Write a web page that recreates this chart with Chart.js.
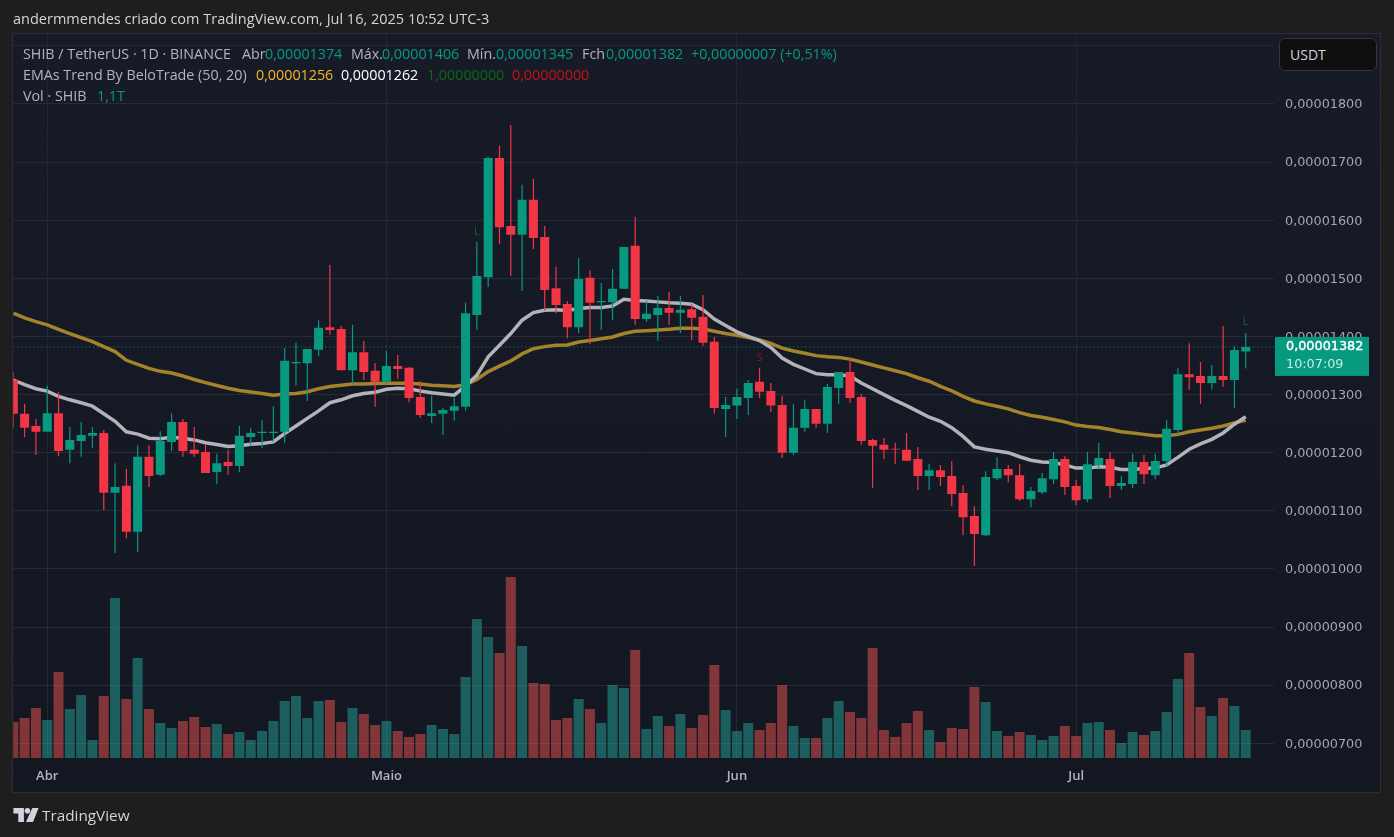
<!DOCTYPE html>
<html>
<head>
<meta charset="utf-8">
<title>SHIB / TetherUS</title>
<script src="https://cdn.jsdelivr.net/npm/chart.js@4"></script>
<style>
html, body { margin: 0; padding: 0; background: #1e1e1e; }
#page { position: relative; width: 1394px; height: 837px; overflow: hidden; background-color: #1e1e1e;
    background-image: radial-gradient(#2a2a2a 0.6px, transparent 0.7px); background-size: 4px 4px; }
#panel { position: absolute; left: 12px; top: 33px; width: 1369px; height: 760px; box-sizing: border-box;
    border: 1.5px solid #2b2d30; background: linear-gradient(#171b27, #121722); }
canvas { position: absolute; left: 0; top: 0; }
.t { position: absolute; white-space: pre; font-family: "Open Sans", sans-serif; font-size: 14.3px; line-height: 18px; color: #b2b5be; }
.g { color: #089981; }
#usdt { position: absolute; left: 1279px; top: 38px; width: 98px; height: 33px; box-sizing: border-box; background: #0f0f10;
    border: 1px solid #34363a; border-radius: 6px; color: #d1d4dc; font: 14px/31px "Open Sans", sans-serif; padding-left: 10px; }
#logo { position: absolute; left: 13px; top: 808px; }
</style>
</head>
<body>
<div id="page">
    <div id="panel"></div>
    <canvas id="myChart" width="1394" height="837"></canvas>
    <div class="t" style="left:13px;top:10px;font-size:14.5px;color:#d1d4dc">andermmendes criado com TradingView.com, Jul 16, 2025 10:52 UTC-3</div>

    <div class="t" style="left:23px;top:45px">SHIB / TetherUS · 1D · BINANCE</div>
    <div class="t" style="left:242px;top:45px">Abr</div><div class="t g" style="left:265px;top:45px">0,00001374</div>
    <div class="t" style="left:351px;top:45px">Máx.</div><div class="t g" style="left:382px;top:45px">0,00001406</div>
    <div class="t" style="left:467px;top:45px">Mín.</div><div class="t g" style="left:496px;top:45px">0,00001345</div>
    <div class="t" style="left:582px;top:45px">Fch</div><div class="t g" style="left:606px;top:45px">0,00001382</div>
    <div class="t g" style="left:691px;top:45px">+0,00000007 (+0,51%)</div>

    <div class="t" style="left:23px;top:66px">EMAs Trend By BeloTrade (50, 20)</div>
    <div class="t" style="left:256px;top:66px;color:#f9b52b">0,00001256</div>
    <div class="t" style="left:341px;top:66px;color:#ffffff">0,00001262</div>
    <div class="t" style="left:427px;top:66px;color:#0b6a12">1,00000000</div>
    <div class="t" style="left:512px;top:66px;color:#c81414">0,00000000</div>

    <div class="t" style="left:23px;top:87px">Vol · SHIB</div>
    <div class="t g" style="left:97px;top:87px">1,1T</div>

    <div id="usdt">USDT</div>

    <svg id="logo" width="26" height="14" viewBox="0 0 36 20">
        <path fill="#d1d4dc" d="M0 0h15v20H7V8H0z"/>
        <circle fill="#d1d4dc" cx="20" cy="4" r="4"/>
        <path fill="#d1d4dc" d="M27 0h9l-8 20h-10z"/>
    </svg>
    <div class="t" style="left:42px;top:806px;font-size:15.3px;color:#d1d4dc">TradingView</div>
</div>

<script>
// prices are in units of 0,00000001, volumes in T
var opens = [1325,1267,1246,1236,1268,1205,1220,1229,1234,1131,
    1143,1064,1193,1162,1218.5,1253,1205,1201,1167,1184,
    1177,1227,1234,1234,1236,1354,1354,1377,1416,1413,
    1342,1373,1341,1322,1349,1346,1296,1263,1267,1272,
    1279,1437,1502,1707,1590,1575,1635,1571,1483,1456,
    1416,1501,1459,1459,1482,1556,1430,1437,1449,1441,
    1447,1434,1391,1275,1281,1294,1322,1306,1282,1200,
    1243,1275,1250,1311.5,1339,1296,1222,1213.5,1207,1205,
    1189,1160,1170,1160,1130.5,1091,1058,1156,1172,1161,
    1120,1132,1154.5,1189,1142.5,1120,1179,1189,1142.5,1146,
    1184,1161,1185.5,1239,1335,1332,1320,1332,1325,1374];
var closes = [1267,1243,1236,1268,1203,1222,1230.5,1234,1131,1141,
    1064,1193,1160,1220,1253,1203,1198,1165,1182,1177,
    1229,1234,1236,1236,1358,1356,1378.5,1415,1411,1342,
    1373,1339,1322,1349,1344,1294,1265,1268,1273.5,1280,
    1440,1504,1707,1588,1575,1635,1569.5,1480,1454,1416,
    1499,1458,1461,1482,1554,1430,1439,1449,1441,1446,
    1432,1389,1277,1282,1296,1320,1305,1281,1200,1243,
    1275,1250,1313,1339,1294,1220,1212,1205,1205.5,1186,
    1160,1170,1158,1129,1089,1060,1158,1172,1161,1120,
    1134,1156,1189,1141,1118,1180,1191,1142.5,1148,1184,
    1163,1185.5,1241,1335,1330,1320,1332,1325,1376.5,1382];
var highs = [1339,1284,1258,1315,1304.5,1244,1253,1244,1239,1182,
    1172,1213,1213,1237,1268,1258,1244,1215,1198,1205,
    1246,1243,1256,1280,1380,1389,1378.5,1428,1523,1418,
    1420,1392,1354,1375,1368,1347.5,1323,1298,1277,1294,
    1458,1563,1709,1728,1764,1661,1671,1590,1520,1461,
    1535,1514,1492,1516,1554,1606,1462,1470,1477,1470,
    1456,1471.5,1399,1296,1310,1325,1346,1320,1298,1284,
    1291,1275,1318,1339,1363,1301,1224,1225.5,1217,1234,
    1210,1181,1179,1185.5,1144,1108,1168,1192,1179,1180,
    1141,1165,1201,1194,1153,1201,1216.5,1201,1160,1198,
    1196,1198,1256,1345.5,1388.5,1356,1351,1418,1383,1406];
var lows = [1243,1227,1196,1236,1194,1182,1193,1208,1101.5,1027.5,
    1053,1029,1141,1160,1203,1193,1193,1165,1146,1162,
    1167,1212,1208,1218.5,1217,1315,1289,1366,1403,1342,
    1316.5,1325,1279,1318,1327,1287,1260,1251,1230.5,1255,
    1272,1411,1485,1559,1504,1478,1550.5,1444,1440,1397,
    1406,1387,1411,1428,1482,1420,1425,1392,1420,1406,
    1394,1384,1267,1227,1258,1265,1294,1270,1191,1196,
    1236,1243,1234,1284,1286,1213.5,1139.5,1189,1181,1186,
    1136,1136,1142.5,1108,1058,1005,1056.5,1153,1149,1117,
    1106,1129,1146,1127,1110,1115,1173.5,1122,1136,1139,
    1146,1154.5,1177,1230,1308,1284,1309,1313,1277,1345];
var emaSlow = [1440,1432,1425.5,1420,1412,1405,1398,1391,1382.5,1374,
    1359,1352,1345,1340,1337,1332,1326,1320.5,1315.5,1311,
    1307,1304.5,1302,1299,1301,1302,1305,1310,1314,1316,
    1318,1318,1319,1319.5,1319.5,1319.5,1318,1316,1315,1314,
    1317,1326,1339.5,1349,1358,1370,1379,1382.5,1385,1385.5,
    1390.5,1393,1396,1399,1405,1409,1410,1411,1412.5,1414,
    1414,1413,1409,1405,1402,1398,1394,1388,1380,1375,
    1371,1367,1365,1364,1361,1356,1351,1346,1341,1336,
    1329,1323,1314,1306.5,1297,1289,1284,1280,1275.5,1269,
    1264,1261,1257,1253,1247.5,1245,1243.5,1240,1236,1234,
    1231.5,1229,1229,1231.5,1236,1239,1242,1246,1251,1256];
var emaFast = [1325,1317,1310,1306,1297,1291,1286,1280,1267,1254,
    1236,1232,1225,1224,1226.5,1225,1222,1217,1214,1210.5,
    1212,1214.5,1216,1218.5,1233,1246,1259,1272,1286,1291,
    1298,1302,1304,1309,1311,1310,1306,1303,1301,1299,
    1315,1333,1365,1385,1405,1428,1441,1445,1446,1444.5,
    1448,1450,1450,1452.5,1464,1462,1461,1459.5,1458,1457,
    1455.5,1446,1430,1419,1408,1400,1393,1381,1363,1352,
    1344,1336,1334,1334,1332,1320,1310,1300,1290,1281,
    1271,1261,1254,1243,1228,1210,1206,1203,1200,1193,
    1187,1184,1183,1179,1173.5,1173.5,1176,1175,1171,1171,
    1173,1173.5,1179,1192,1206,1215,1223,1234,1249,1262];
var volumes = [1.41,1.57,1.96,1.49,3.38,1.93,2.48,0.71,2.44,6.29,
    2.32,3.93,1.93,1.38,1.18,1.45,1.61,1.22,1.34,0.94,
    1.02,0.71,1.06,1.45,2.24,2.44,1.57,2.24,2.28,1.41,
    1.96,1.73,1.30,1.45,1.06,0.83,0.94,1.30,1.14,0.94,
    3.18,5.46,4.75,4.13,7.11,4.40,2.95,2.91,1.49,1.57,
    2.32,1.93,1.38,2.87,2.75,4.24,1.14,1.65,1.26,1.73,
    1.18,1.69,3.65,1.89,1.06,1.38,1.10,1.38,2.87,1.26,
    0.79,0.79,1.57,2.24,1.81,1.57,4.32,1.10,0.83,1.38,
    1.85,1.10,0.63,1.18,1.14,2.79,2.20,1.06,0.86,1.02,
    0.90,0.71,0.86,1.26,0.86,1.38,1.41,1.10,0.59,1.02,
    0.90,1.06,1.81,3.10,4.13,2.00,1.65,2.36,2.04,1.10];
var priceTicks = [700,800,900,1000,1100,1200,1300,1400,1500,1600,1700,1800,1900];
var monthTicks = [3,33,64,94];
var monthLabels = ["Abr","Maio","Jun","Jul"];
var signals = [{i:41, price:1580, text:"L"}, {i:66, price:1363, text:"S"}, {i:109, price:1425, text:"L"}];
var countdown = "10:07:09";

var UP = "#089981";
var DOWN = "#f23645";
var lastIndex = 111.5;

function priceText(v) {
    return (v / 1e8).toFixed(8).replace(".", ",");
}
function candleColor(i) {
    return closes[i] >= opens[i] ? UP : DOWN;
}
function points(values) {
    return values.map((v, i) => ({x: i, y: v}));
}

var bodies = opens.map((o, i) => ({x: i, y: [o, closes[i]]}));
var wicks = lows.map((l, i) => ({x: i, y: [l, highs[i]]}));
var candleColors = opens.map((o, i) => candleColor(i));
var volumeColors = opens.map((o, i) => closes[i] >= o ? "rgba(38,166,154,0.5)" : "rgba(239,83,80,0.5)");
var lastPrice = closes[closes.length - 1];

var overlays = {
    id: "overlays",
    afterDraw: function(chart) {
        var ctx = chart.ctx;
        var xs = chart.scales.x;
        var ys = chart.scales.y;
        ctx.save();
        ctx.textBaseline = "middle";

        signals.forEach(function(s) {
            ctx.font = '11px "Open Sans", sans-serif';
            ctx.textAlign = "center";
            ctx.fillStyle = s.text == "L" ? "#0f6a17" : "#8a1a20";
            ctx.fillText(s.text, xs.getPixelForValue(s.i), ys.getPixelForValue(s.price));
        });

        // last price tag on the axis
        var y = ys.getPixelForValue(lastPrice);
        var textX = chart.chartArea.right + 12;
        ctx.fillStyle = UP;
        ctx.fillRect(chart.chartArea.right + 1, y - 10, 94, 39);
        ctx.textAlign = "left";
        ctx.font = '12.8px "DejaVu Sans", sans-serif';
        ctx.fillStyle = "#ffffff";
        ctx.strokeStyle = "#ffffff";
        ctx.lineWidth = 0.4;
        ctx.fillText(priceText(lastPrice), textX, y);
        ctx.strokeText(priceText(lastPrice), textX, y);
        ctx.fillStyle = "#c8efe6";
        ctx.fillText(countdown, textX, y + 18);
        ctx.restore();
    }
};

new Chart(document.getElementById("myChart").getContext("2d"), {
    data: {
        datasets: [
            {type: "bar", data: points(volumes), yAxisID: "vol", backgroundColor: volumeColors, barThickness: 10, grouped: false, order: 6, inflateAmount: 0},
            {type: "line", data: [{x: 0, y: lastPrice}, {x: lastIndex, y: lastPrice}], borderColor: UP, borderWidth: 1, borderDash: [1, 3], pointRadius: 0, order: 5},
            {type: "line", data: points(emaSlow), borderColor: "#a5832a", borderWidth: 3.5, pointRadius: 0, order: 4},
            {type: "line", data: points(emaFast), borderColor: "#b2b2b8", borderWidth: 3.5, pointRadius: 0, order: 3},
            {type: "bar", data: wicks, backgroundColor: candleColors, barThickness: 1.2, grouped: false, order: 2, inflateAmount: 0},
            {type: "bar", data: bodies, backgroundColor: candleColors, barThickness: 9, grouped: false, order: 1, inflateAmount: 0}
        ]
    },
    plugins: [overlays],
    options: {
        responsive: false,
        animation: false,
        layout: {padding: {left: 13.3, top: 34, right: 13, bottom: 44}},
        plugins: {legend: {display: false}, tooltip: {enabled: false}},
        scales: {
            x: {
                type: "linear",
                offset: false,
                min: 0,
                max: lastIndex,
                afterBuildTicks: function(scale) {
                    scale.ticks = monthTicks.map(v => ({value: v}));
                },
                afterFit: function(scale) {
                    scale.height = 35;
                },
                grid: {color: "#23272f", drawTicks: false, offset: false},
                border: {display: false},
                ticks: {
                    padding: 10,
                    maxRotation: 0,
                    autoSkip: false,
                    color: "#b2b5be",
                    font: {family: "Open Sans", size: 13, weight: "600"},
                    callback: function(v) {
                        return monthLabels[monthTicks.indexOf(v)];
                    }
                }
            },
            y: {
                position: "right",
                min: 674.7,
                max: 1920.4,
                afterBuildTicks: function(scale) {
                    scale.ticks = priceTicks.map(v => ({value: v}));
                },
                afterFit: function(scale) {
                    scale.width = 107;
                },
                grid: {color: "#272b35", drawTicks: false},
                border: {display: false},
                ticks: {
                    padding: 11,
                    labelOffset: 1,
                    autoSkip: false,
                    color: "#a4a7b0",
                    font: {family: "DejaVu Sans", size: 12.8},
                    callback: function(v) {
                        return v == 1900 ? "" : priceText(v);
                    }
                }
            },
            vol: {
                display: false,
                min: 0,
                max: 28.45
            }
        }
    }
});
</script>
</body>
</html>
